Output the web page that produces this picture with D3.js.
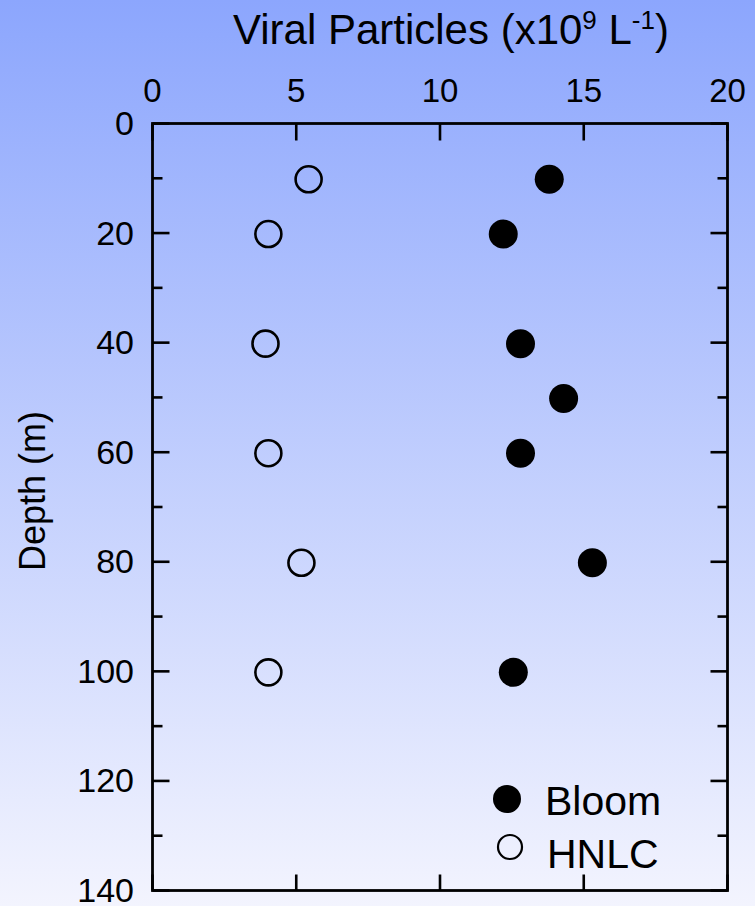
<!DOCTYPE html>
<html><head><meta charset="utf-8">
<script src="https://cdn.jsdelivr.net/npm/d3@7"></script>
<style>html,body{margin:0;padding:0;overflow:hidden;}svg{display:block;}</style>
</head><body>
<script>
const bloomDepths = [10, 20, 40, 50, 60, 80, 100];
const bloomValues = [13.8, 12.2, 12.8, 14.3, 12.8, 15.3, 12.55];
const hnlcDepths = [10, 20, 40, 60, 80, 100];
const hnlcValues = [5.43, 4.03, 3.93, 4.03, 5.18, 4.03];
const xTicks = [0, 5, 10, 15, 20];
const yTicks = [0, 20, 40, 60, 80, 100, 120, 140];
const yMinorTicks = [10, 30, 50, 70, 90, 110, 130];

(function () {
const W = 755, H = 906;
const svg = d3.select("body").append("svg").attr("width", W).attr("height", H);
const defs = svg.append("defs");
const grad = defs.append("linearGradient").attr("id", "bg").attr("x1", 0).attr("y1", 0).attr("x2", 0).attr("y2", 1);
grad.append("stop").attr("offset", "0%").attr("stop-color", "#8ca6fd");
grad.append("stop").attr("offset", "100%").attr("stop-color", "#f3f4fe");
svg.append("rect").attr("width", W).attr("height", H).attr("fill", "url(#bg)");

const pL = 152.5, pR = 727.5, pT = 123.5, pB = 890.5;
const x = d3.scaleLinear().domain([0, 20]).range([pL, pR]);
const y = d3.scaleLinear().domain([0, 140]).range([pT, pB]);
const font = "Liberation Sans, Arial, Helvetica, sans-serif";

const g = svg.append("g");
g.append("rect").attr("x", pL).attr("y", pT).attr("width", pR - pL).attr("height", pB - pT)
  .attr("fill", "none").attr("stroke", "#000").attr("stroke-width", 2.8);

const sw = 2.6;
yTicks.forEach(t => {
  g.append("line").attr("x1", pL).attr("x2", pL + 17).attr("y1", y(t)).attr("y2", y(t)).attr("stroke", "#000").attr("stroke-width", sw);
  g.append("line").attr("x1", pR).attr("x2", pR - 17).attr("y1", y(t)).attr("y2", y(t)).attr("stroke", "#000").attr("stroke-width", sw);
});
yMinorTicks.forEach(t => {
  g.append("line").attr("x1", pL).attr("x2", pL + 10).attr("y1", y(t)).attr("y2", y(t)).attr("stroke", "#000").attr("stroke-width", sw);
  g.append("line").attr("x1", pR).attr("x2", pR - 10).attr("y1", y(t)).attr("y2", y(t)).attr("stroke", "#000").attr("stroke-width", sw);
});
xTicks.forEach(t => {
  g.append("line").attr("x1", x(t)).attr("x2", x(t)).attr("y1", pT).attr("y2", pT + 17).attr("stroke", "#000").attr("stroke-width", sw);
  g.append("line").attr("x1", x(t)).attr("x2", x(t)).attr("y1", pB).attr("y2", pB - 16).attr("stroke", "#000").attr("stroke-width", sw);
});

g.selectAll(".xl").data(xTicks).enter().append("text")
  .attr("x", d => x(d)).attr("y", 102).attr("text-anchor", "middle")
  .attr("font-family", font).attr("font-size", 33).text(d => d);
g.selectAll(".yl").data(yTicks).enter().append("text")
  .attr("x", 134).attr("y", d => y(d) + 11.5).attr("text-anchor", "end")
  .attr("font-family", font).attr("font-size", 34).text(d => d);

const title = g.append("text").attr("x", 451).attr("y", 44).attr("text-anchor", "middle")
  .attr("font-family", font).attr("font-size", 42);
title.append("tspan").text("Viral Particles (x10");
title.append("tspan").attr("font-size", 26).attr("dy", -15).text("9");
title.append("tspan").attr("dy", 15).text(" L");
title.append("tspan").attr("font-size", 26).attr("dy", -15).text("-1");
title.append("tspan").attr("dy", 15).text(")");

g.append("text").attr("transform", "translate(45,491) rotate(-90)").attr("text-anchor", "middle")
  .attr("font-family", font).attr("font-size", 36).text("Depth (m)");

g.selectAll(".hn").data(hnlcValues).enter().append("circle")
  .attr("cx", d => x(d)).attr("cy", (d, i) => y(hnlcDepths[i]) + 1).attr("r", 13)
  .attr("fill", "none").attr("stroke", "#000").attr("stroke-width", 2.6);
g.selectAll(".bl").data(bloomValues).enter().append("circle")
  .attr("cx", d => x(d)).attr("cy", (d, i) => y(bloomDepths[i]) + 1).attr("r", 14.5)
  .attr("fill", "#000");

g.append("circle").attr("cx", 507).attr("cy", 799).attr("r", 14).attr("fill", "#000");
g.append("text").attr("x", 545).attr("y", 815).attr("font-family", font).attr("font-size", 41).text("Bloom");
g.append("circle").attr("cx", 510).attr("cy", 847).attr("r", 12).attr("fill", "none").attr("stroke", "#000").attr("stroke-width", 2.2);
g.append("text").attr("x", 547).attr("y", 868).attr("font-family", font).attr("font-size", 41).text("HNLC");
})();
</script>
</body></html>
